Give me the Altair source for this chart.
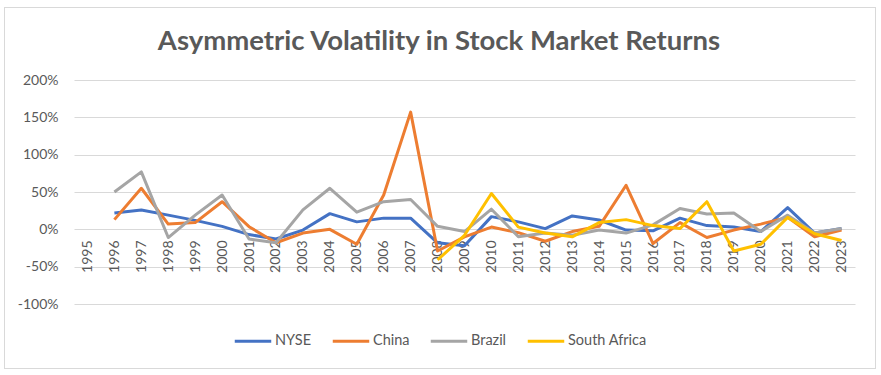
import altair as alt
import pandas as pd

years = list(range(1995, 2024))
series_names = ["NYSE", "China", "Brazil", "South Africa"]
series_colors = ["#4472C4", "#ED7D31", "#A5A5A5", "#FFC000"]
title_text = "Asymmetric Volatility in Stock Market Returns"

# returns in percent (None = no data)
nyse = [None, 22, 26, 19, 12, 4, -7, -13, -1, 21, 10, 15, 15, -18, -22, 17, 10, 1, 18, 12.5,
        -1, -2, 15, 5, 3, -3, 29, -5, 1]
china = [None, 13, 55, 7, 9, 37, 3.5, -18, -5, 0, -20, 46, 157, -29, -10, 3, -4.5, -16, -3, 4,
         59, -19, 9, -11, -1, 7, 16, -10, -1]
brazil = [None, 50, 77, -11, 19, 46, -13, -18, 26, 55, 23, 37, 40, 4, -3, 27, -10, -5, -8, -1,
          -5, 6, 28, 20.5, 22, -3, 19, -5, 1]
south_africa = [None] * 13 + [-41, -8, 48, 3, -5, -10, 9, 13, 5, 1, 37, -29, -20, 16, -6, -15]

y_ticks = [-1.0, -0.5, 0.0, 0.5, 1.0, 1.5, 2.0]

rows = []
for name, vals in zip(series_names, [nyse, china, brazil, south_africa]):
    for yr, v in zip(years, vals):
        if v is not None:
            rows.append({"Year": str(yr), "Series": name, "Return": v / 100.0})
df = pd.DataFrame(rows)

FONT = "Lato"
GREY = "#595959"

lines = alt.Chart(df).mark_line(strokeWidth=3, strokeJoin="round").encode(
    x=alt.X("Year:O",
            scale=alt.Scale(type="point", domain=[str(y) for y in years], padding=0.5),
            axis=alt.Axis(title=None, labelAngle=-90, ticks=False, domain=False,
                          labelPadding=11, offset=-75, labelFontSize=14,
                          labelColor=GREY, labelFont=FONT, grid=False)),
    y=alt.Y("Return:Q",
            scale=alt.Scale(domain=[-1, 2], nice=False),
            axis=alt.Axis(title=None, values=y_ticks, ticks=False, domain=False,
                          labelPadding=16, labelFontSize=14, labelColor=GREY,
                          labelFont=FONT, gridColor="#D9D9D9", gridWidth=1,
                          labelExpr="replace(format(datum.value, '.0%'), '\u2212', '-')")),
    color=alt.Color("Series:N",
                    scale=alt.Scale(domain=series_names, range=series_colors),
                    legend=alt.Legend(title=None, orient="none", direction="horizontal",
                                      legendX=159, legendY=241, symbolType="stroke",
                                      symbolStrokeWidth=3, symbolSize=1330,
                                      labelFontSize=14.5, labelColor=GREY, labelFont=FONT,
                                      labelOffset=2, columnPadding=14)),
)

border = alt.Chart(df).mark_rect(fill=None, stroke="#D9D9D9", strokeWidth=1).encode(
    x=alt.value(-69.5), x2=alt.value(801.5), y=alt.value(-72.5), y2=alt.value(288.5)
)

title = alt.Chart(pd.DataFrame({"t": [title_text]})).mark_text(
    font=FONT, fontSize=27.5, fontWeight="bold", color=GREY, align="center",
    baseline="alphabetic"
).encode(text="t:N", x=alt.value(365), y=alt.value(-30.5))

chart = alt.layer(border, lines, title).properties(
    width=781, height=224,
    padding={"left": 74, "top": 80, "right": 26, "bottom": 71},
    autosize=alt.AutoSizeParams(type="none"),
).configure_view(stroke=None)

chart.save("out.html", embed_options={"renderer": "svg", "actions": False})
